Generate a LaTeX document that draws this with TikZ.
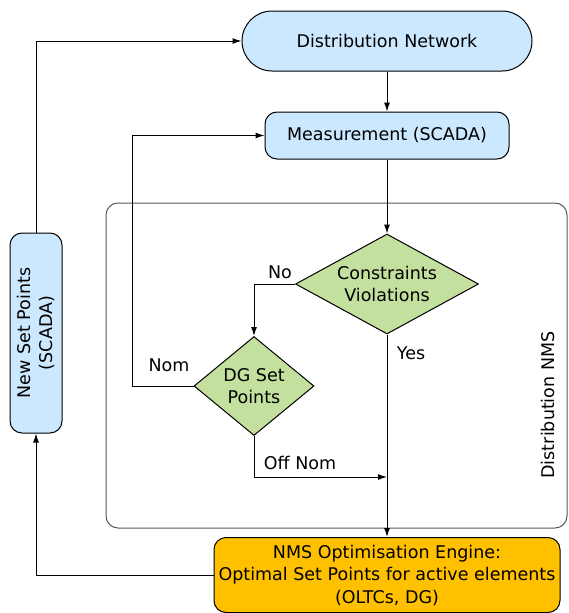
\documentclass[tikz,border=0pt]{standalone}
\usepackage{fontspec}
\setmainfont{DejaVu Sans}
\usepackage{tikz}
\usetikzlibrary{shapes.geometric,arrows.meta}

\definecolor{boxblue}{RGB}{204,232,255}
\definecolor{boxgreen}{RGB}{196,224,158}
\definecolor{boxorange}{RGB}{255,192,0}

\begin{document}
\begin{tikzpicture}[x=1pt,y=-1pt,line width=1pt,
	>={Latex[length=9pt,width=6pt]},
	every node/.style={font=\fontsize{17.5}{22.5}\selectfont,align=center},
	bluebox/.style={draw,fill=boxblue,rounded corners=12pt,inner sep=0pt},
	decision/.style={draw,diamond,fill=boxgreen,inner sep=0pt}]
\useasboundingbox (0,0) rectangle (568,613);

\path (336.5,365.5) node[draw=black!65,rounded corners=12pt,minimum width=461pt,minimum height=325pt] (nmsarea) {}
		(387,41) node[bluebox,rounded corners=30pt,minimum width=290pt,minimum height=60pt] (dn) {Distribution Network}
		(387,135.5) node[bluebox,minimum width=244pt,minimum height=47pt] (meas) {Measurement (SCADA)}
		(387,284) node[decision,aspect=1.83,minimum width=183pt,minimum height=100pt] (cv) {Constraints\\Violations}
		(254,386) node[decision,aspect=1.2,minimum width=120pt,minimum height=99pt] (dg) {DG Set\\Points}
		(387,575) node[draw,fill=boxorange,rounded corners=12pt,minimum width=346pt,minimum height=75pt] (nms) {NMS Optimisation Engine:\\Optimal Set Points for active elements\\(OLTCs, DG)}
		(36,333) node[bluebox,minimum width=200pt,minimum height=52pt,rotate=90] (nsp) {New Set Points\\(SCADA)}
		(548,405) node[rotate=90] {Distribution NMS}
		(280,272) node {No}
		(169,365) node {Nom}
		(411,353) node {Yes}
		(300,463) node {Off Nom}
		(387,477) coordinate (offnom)
;

\draw[->] (dn) -- (meas);
\draw[->] (meas) -- (cv);
\draw[->] (cv.west) -| (dg.north);
\draw[->] (dg.west) -- ++(-61,0) |- (meas.west);
\draw[->] (cv.south) -- (nms.north);
\draw[->] (dg.south) |- (offnom);
\draw[->] (nms.west) -| (nsp.west);
\draw[->] (nsp.east) |- (dn.west);

\end{tikzpicture}
\end{document}
